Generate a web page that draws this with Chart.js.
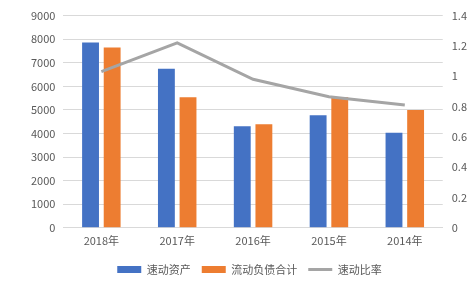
<!DOCTYPE html>
<html>
<head>
<meta charset="utf-8">
<script src="https://cdn.jsdelivr.net/npm/chart.js@4/dist/chart.umd.min.js"></script>
<style>
    html, body { margin: 0; padding: 0; background: #fff; }
    #wrap { width: 471px; height: 288px; }
</style>
</head>
<body>
<div id="wrap"><canvas id="ratio-chart"></canvas></div>
<script>
const years = ['2018年', '2017年', '2016年', '2015年', '2014年'];
const quickAssets = [7860, 6750, 4310, 4770, 4030];
const currentLiabilities = [7650, 5540, 4390, 5540, 5000];
const quickRatio = [1.03, 1.22, 0.98, 0.865, 0.81];
const leftTicks = [0, 1000, 2000, 3000, 4000, 5000, 6000, 7000, 8000, 9000];
const rightTicks = [0, 0.2, 0.4, 0.6, 0.8, 1, 1.2, 1.4];

const textColor = '#595959';
const fontFamily = '"Noto Sans CJK SC", "Noto Sans", sans-serif';

Chart.defaults.font.family = fontFamily;
Chart.defaults.font.size = 11;
Chart.defaults.color = textColor;

new Chart('ratio-chart', {
    type: 'bar',
    data: {
        labels: years,
        datasets: [{
            label: '速动资产',
            data: quickAssets,
            backgroundColor: '#4472C4',
            yAxisID: 'y',
            order: 2
        }, {
            label: '流动负债合计',
            data: currentLiabilities,
            backgroundColor: '#ED7D31',
            yAxisID: 'y',
            order: 2
        }, {
            type: 'line',
            label: '速动比率',
            data: quickRatio,
            borderColor: '#A5A5A5',
            backgroundColor: '#A5A5A5',
            borderWidth: 3,
            pointRadius: 0,
            tension: 0,
            yAxisID: 'y1',
            order: 1
        }]
    },
    options: {
        responsive: true,
        maintainAspectRatio: false,
        animation: false,
        datasets: {
            bar: {
                categoryPercentage: 0.57,
                barPercentage: 0.78
            }
        },
        layout: {
            padding: { left: 23, right: -5, top: -3, bottom: 3 }
        },
        plugins: {
            tooltip: { enabled: false },
            legend: {
                position: 'bottom',
                labels: {
                    usePointStyle: true,
                    pointStyleWidth: 24,
                    boxHeight: 7,
                    padding: 11,
                    color: textColor,
                    font: { size: 11 },
                    generateLabels: function (chart) {
                        const items = Chart.defaults.plugins.legend.labels.generateLabels(chart);
                        items.sort((a, b) => a.datasetIndex - b.datasetIndex);
                        items.forEach(item => {
                            if (item.datasetIndex === 2) {
                                item.pointStyle = 'line';
                                item.lineWidth = 3;
                            } else {
                                item.pointStyle = 'rect';
                                item.lineWidth = 0;
                            }
                        });
                        return items;
                    }
                }
            }
        },
        scales: {
            x: {
                grid: { display: false, drawTicks: false },
                border: { color: '#D9D9D9' },
                ticks: { padding: 6, color: textColor }
            },
            y: {
                position: 'left',
                min: 0,
                max: 9000,
                afterBuildTicks: function (axis) {
                    axis.ticks = leftTicks.map(v => ({ value: v }));
                },
                grid: { color: '#D9D9D9', drawTicks: false },
                border: { display: false },
                ticks: {
                    padding: 8,
                    color: textColor,
                    callback: v => String(v)
                }
            },
            y1: {
                position: 'right',
                min: 0,
                max: 1.4,
                afterBuildTicks: function (axis) {
                    axis.ticks = rightTicks.map(v => ({ value: v }));
                },
                grid: { display: false, drawTicks: false },
                border: { display: false },
                ticks: {
                    padding: 9,
                    color: textColor,
                    callback: v => String(Math.round(v * 10) / 10)
                }
            }
        }
    }
});
</script>
</body>
</html>
